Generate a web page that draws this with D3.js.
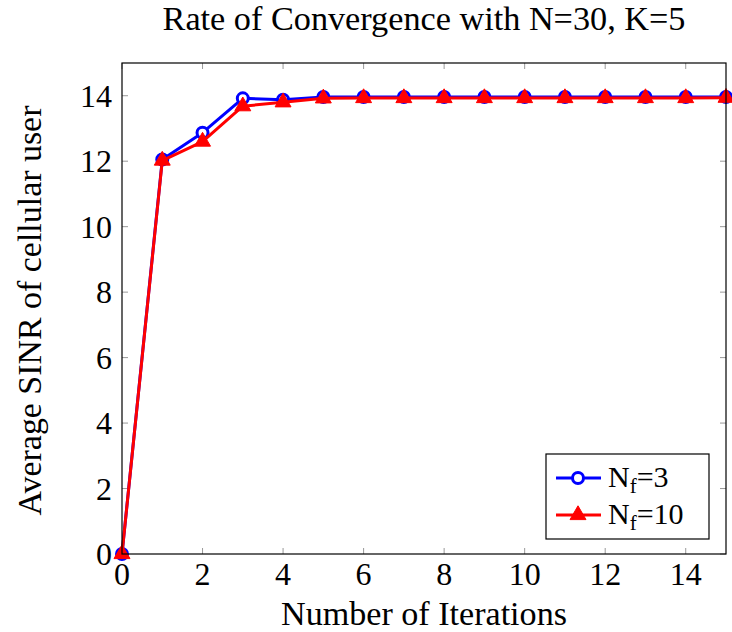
<!DOCTYPE html>
<html>
<head>
<meta charset="utf-8">
<script src="https://cdn.jsdelivr.net/npm/d3@7"></script>
<style>
  body { margin: 0; background: #fff; }
</style>
</head>
<body>
<svg id="chart" width="732" height="632"></svg>
<script>
  const iterations = [0, 1, 2, 3, 4, 5, 6, 7, 8, 9, 10, 11, 12, 13, 14, 15];
  const nf3 = [0, 12.05, 12.87, 13.92, 13.88, 13.96, 13.96, 13.96, 13.96, 13.96, 13.96, 13.96, 13.96, 13.96, 13.96, 13.96];
  const nf10 = [0, 12.02, 12.6, 13.68, 13.8, 13.92, 13.93, 13.93, 13.93, 13.93, 13.93, 13.93, 13.93, 13.93, 13.93, 13.94];
  const xTicks = [0, 2, 4, 6, 8, 10, 12, 14];
  const yTicks = [0, 2, 4, 6, 8, 10, 12, 14];

  const FONT = "Liberation Serif";
  const margin = { left: 122, right: 6, top: 63, bottom: 78 };
  const width = 732, height = 632;
  const svg = d3.select("#chart");

  const x = d3.scaleLinear().domain([0, 15]).range([margin.left, width - margin.right]);
  const y = d3.scaleLinear().domain([0, 15]).range([height - margin.bottom, margin.top]);

  // shrink/grow a text's font size so it spans the wanted width
  function fitWidth(sel, target) {
    const w = sel.node().getComputedTextLength();
    const fs = parseFloat(sel.attr("font-size"));
    if (w > 0) sel.attr("font-size", fs * target / w);
  }

  // inward grey ticks on all four sides
  const tickLen = 6;
  const ticks = svg.append("g").attr("stroke", "#999").attr("stroke-width", 1);
  xTicks.forEach(v => {
    ticks.append("line").attr("x1", x(v)).attr("x2", x(v)).attr("y1", y(0)).attr("y2", y(0) - tickLen);
    ticks.append("line").attr("x1", x(v)).attr("x2", x(v)).attr("y1", y(15)).attr("y2", y(15) + tickLen);
  });
  yTicks.forEach(v => {
    ticks.append("line").attr("y1", y(v)).attr("y2", y(v)).attr("x1", x(0)).attr("x2", x(0) + tickLen);
    ticks.append("line").attr("y1", y(v)).attr("y2", y(v)).attr("x1", x(15)).attr("x2", x(15) - tickLen);
  });

  svg.append("g")
    .selectAll("text")
    .data(xTicks)
    .join("text")
    .style("font-family", FONT)
    .attr("x", d => x(d))
    .attr("y", 585)
    .attr("text-anchor", "middle")
    .attr("font-size", 32)
    .text(d => d);

  svg.append("g")
    .selectAll("text")
    .data(yTicks)
    .join("text")
    .style("font-family", FONT)
    .attr("x", x(0) - 10)
    .attr("y", d => y(d) + 11)
    .attr("text-anchor", "end")
    .attr("font-size", 32)
    .text(d => d);

  const line = d3.line().x((d, i) => x(iterations[i])).y(d => y(d));

  svg.append("path").datum(nf3)
    .attr("fill", "none").attr("stroke", "#0000ff").attr("stroke-width", 3)
    .attr("stroke-linejoin", "round").attr("d", line);
  svg.append("g").selectAll("circle").data(nf3).join("circle")
    .attr("cx", (d, i) => x(iterations[i])).attr("cy", d => y(d)).attr("r", 5.5)
    .attr("fill", "#fff").attr("stroke", "#0000ff").attr("stroke-width", 3);

  svg.append("path").datum(nf10)
    .attr("fill", "none").attr("stroke", "#ff0000").attr("stroke-width", 3)
    .attr("stroke-linejoin", "round").attr("d", line);
  const tri = d3.symbol().type(d3.symbolTriangle).size(110);
  svg.append("g").selectAll("path").data(nf10).join("path")
    .attr("transform", (d, i) => `translate(${x(iterations[i])},${y(d)})`)
    .attr("d", tri).attr("fill", "#ff0000").attr("stroke", "#ff0000").attr("stroke-width", 1);

  // frame
  svg.append("rect")
    .attr("x", x(0)).attr("y", y(15))
    .attr("width", x(15) - x(0)).attr("height", y(0) - y(15))
    .attr("fill", "none").attr("stroke", "#000").attr("stroke-width", 1.2);

  // legend
  const legend = svg.append("g");
  legend.append("rect").attr("x", 546).attr("y", 454).attr("width", 163).attr("height", 85)
    .attr("fill", "#fff").attr("stroke", "#000").attr("stroke-width", 1.2);
  const items = [
    { color: "#0000ff", sub: "3", kind: "circle", yy: 478 },
    { color: "#ff0000", sub: "10", kind: "tri", yy: 515 }
  ];
  items.forEach(it => {
    legend.append("line").attr("x1", 556).attr("x2", 601).attr("y1", it.yy).attr("y2", it.yy)
      .attr("stroke", it.color).attr("stroke-width", 3);
    if (it.kind === "circle") {
      legend.append("circle").attr("cx", 578).attr("cy", it.yy).attr("r", 5.5)
        .attr("fill", "#fff").attr("stroke", it.color).attr("stroke-width", 3);
    } else {
      legend.append("path").attr("transform", `translate(578,${it.yy})`).attr("d", tri)
        .attr("fill", it.color).attr("stroke", it.color);
    }
    const t = legend.append("text").style("font-family", FONT)
      .attr("x", 608).attr("y", it.yy + 9).attr("font-size", 30);
    t.append("tspan").text("N");
    t.append("tspan").attr("font-size", 21).attr("dy", 6).text("f");
    t.append("tspan").attr("dy", -6).text("=" + it.sub);
  });

  const title = svg.append("text").style("font-family", FONT)
    .attr("x", (x(0) + x(15)) / 2).attr("y", 30)
    .attr("text-anchor", "middle").attr("font-size", 26)
    .text("Rate of Convergence with N=30, K=5");
  fitWidth(title, 523);

  const xLabel = svg.append("text").style("font-family", FONT)
    .attr("x", (x(0) + x(15)) / 2).attr("y", 625)
    .attr("text-anchor", "middle").attr("font-size", 26)
    .text("Number of Iterations");
  fitWidth(xLabel, 286);

  const yLabel = svg.append("text").style("font-family", FONT)
    .attr("transform", `translate(41,${(y(0) + y(15)) / 2 + 2}) rotate(-90)`)
    .attr("text-anchor", "middle").attr("font-size", 26)
    .text("Average SINR of cellular user");
  fitWidth(yLabel, 410);
</script>
</body>
</html>
